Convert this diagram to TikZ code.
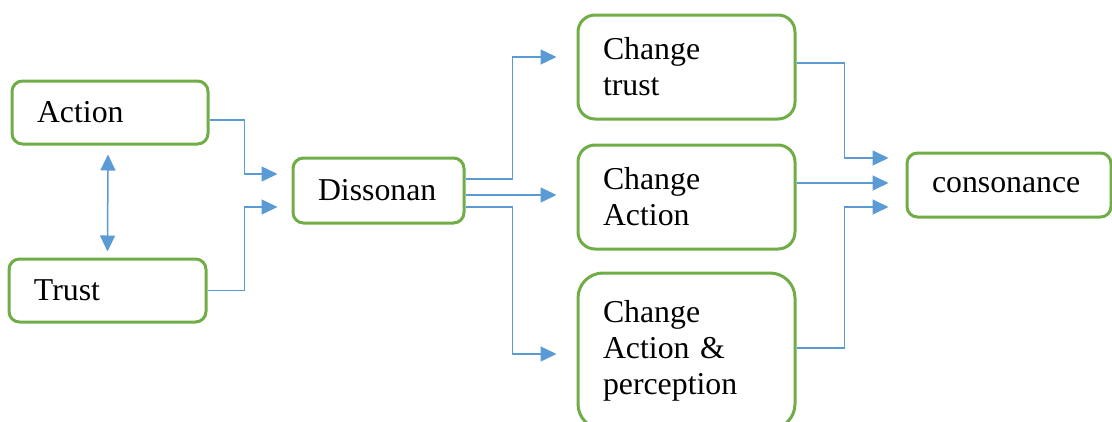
\documentclass[tikz,border=0pt]{standalone}
\usepackage{fontspec}
\setmainfont{Liberation Serif}
\usetikzlibrary{positioning,arrows.meta}
\definecolor{boxgreen}{RGB}{112,173,71}
\definecolor{lineblue}{RGB}{91,155,213}

\begin{document}
\begin{tikzpicture}[x=1pt,y=1pt,on grid,>={Triangle[length=16pt,width=15pt]},
    block/.style={draw=boxgreen,line width=3pt,rounded corners=10.5pt,fill=white,text=black,align=left,inner xsep=25pt,inner ysep=0pt,font=\fontsize{31.8}{36}\selectfont},
    link/.style={draw=lineblue,line width=1.5pt,->}]
    \useasboundingbox (0,0) rectangle (1112,-421);
    \node[block] (act) [text width=146pt, minimum height=63pt] at (110,-112.5) {Action};
    \node[block] (tru) [text width=147pt, minimum height=63pt, below=178pt of act, xshift=-2.5pt] {Trust};
    \node[block] (dis) [text width=121pt, minimum height=65pt, below right=78pt and 268.5pt of act] {Dissonan};
    \node[block] (cac) [text width=167pt, minimum height=104pt, rounded corners=17pt, below right=6.5pt and 308pt of dis] {Change\\Action};
    \node[block] (ctr) [text width=167pt, minimum height=104pt, rounded corners=17pt, above=130pt of cac] {Change\\trust};
    \node[block] (cap) [text width=167pt, minimum height=156pt, rounded corners=25pt, below=154pt of cac] {Change\\Action \&\\perception};
    \node[block] (con) [text width=154pt, minimum height=64pt, above right=12pt and 322.5pt of cac] {consonance};
    % left part
    \draw[link,<->] ([xshift=-2pt,yshift=-9pt]act.south) -- ([yshift=6pt]tru.north);
    \draw[link] ([yshift=-7.5pt]act.east) -- ++(35,0) |- ([xshift=-14pt,yshift=16.5pt]dis.west);
    \draw[link] (tru.east) -- ++(37,0) |- ([xshift=-14pt,yshift=-16.5pt]dis.west);
    % middle part
    \draw[link] ([yshift=11.5pt]dis.east) -- ++(47,0) |- ([xshift=-20pt,yshift=10pt]ctr.west);
    \draw[link] ([yshift=-4.5pt]dis.east) -- ([xshift=-20pt,yshift=2pt]cac.west);
    \draw[link] ([yshift=-16.5pt]dis.east) -- ++(47,0) |- ([xshift=-20pt,yshift=-3pt]cap.west);
    % right part
    \draw[link] ([yshift=4pt]ctr.east) -- ++(48,0) |- ([xshift=-17pt,yshift=27pt]con.west);
    \draw[link] ([yshift=14pt]cac.east) -- ([xshift=-17pt,yshift=2pt]con.west);
    \draw[link] ([yshift=3pt]cap.east) -- ++(48,0) |- ([xshift=-17pt,yshift=-22pt]con.west);
\end{tikzpicture}
\end{document}
